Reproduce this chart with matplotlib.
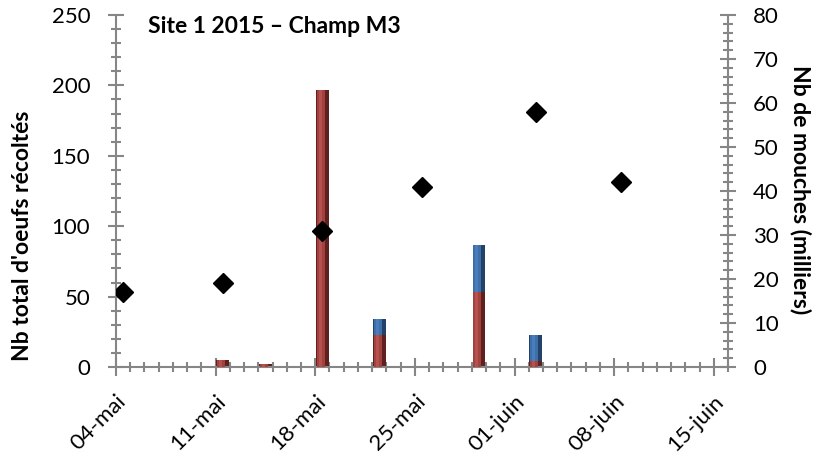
import matplotlib
matplotlib.use("Agg")
import matplotlib.pyplot as plt
import matplotlib.dates as mdates
from matplotlib.ticker import MultipleLocator
import pandas as pd

plt.rcParams['font.family'] = ['Lato', 'DejaVu Sans']

# données
dates_oeufs = ["2015-05-11", "2015-05-14", "2015-05-18", "2015-05-22", "2015-05-29", "2015-06-02"]
oeufs_rouge = [5, 2, 197, 23, 53, 4]
oeufs_bleu = [0, 0, 0, 11, 34, 19]

dates_mouches = ["2015-05-04", "2015-05-11", "2015-05-18", "2015-05-25", "2015-06-02", "2015-06-08"]
mouches = [17, 19, 31, 41, 58, 42]

tick_dates = ["2015-05-04", "2015-05-11", "2015-05-18", "2015-05-25", "2015-06-01", "2015-06-08", "2015-06-15"]
tick_labels = ["04-mai", "11-mai", "18-mai", "25-mai", "01-juin", "08-juin", "15-juin"]

gris = "#868686"
half = pd.Timedelta(hours=12)

x_oeufs = mdates.date2num(pd.to_datetime(dates_oeufs) + half)
x_mouches = mdates.date2num(pd.to_datetime(dates_mouches) + half)

fig, ax = plt.subplots(figsize=(8.15, 4.59), dpi=100)
fig.subplots_adjust(left=0.1423, right=0.8933, top=0.9673, bottom=0.2004)

w = 0.9
# barres rouges (ombrées)
ax.bar(x_oeufs, oeufs_rouge, width=w, color="#5e2120", zorder=2)
ax.bar(x_oeufs - 0.12, oeufs_rouge, width=w * 0.62, color="#a3413e", zorder=3)
ax.bar(x_oeufs - 0.15, oeufs_rouge, width=w * 0.25, color="#b5524f", zorder=3)
# barres bleues empilées
ax.bar(x_oeufs, oeufs_bleu, bottom=oeufs_rouge, width=w, color="#23426a", zorder=2)
ax.bar(x_oeufs - 0.12, oeufs_bleu, bottom=oeufs_rouge, width=w * 0.62, color="#3e6fa8", zorder=3)
ax.bar(x_oeufs - 0.15, oeufs_bleu, bottom=oeufs_rouge, width=w * 0.25, color="#4a7dbb", zorder=3)

ax.set_ylim(0, 250)
ax.set_xlim(mdates.date2num(pd.Timestamp("2015-05-04")), mdates.date2num(pd.Timestamp("2015-06-16")))
ax.yaxis.set_major_locator(MultipleLocator(50))
ax.yaxis.set_minor_locator(MultipleLocator(10))
ax.set_xticks(mdates.date2num(pd.to_datetime(tick_dates)))
ax.set_xticklabels(tick_labels, rotation=45, ha="right", va="top", rotation_mode="anchor")
ax.xaxis.set_minor_locator(MultipleLocator(1))

ax.set_ylabel("Nb total d'oeufs récoltés", fontsize=16.5, fontweight="bold", va="center")
ax.yaxis.set_label_coords(-0.153, 0.372)

ax2 = ax.twinx()
ax2.plot(x_mouches, mouches, "D", color="black", markersize=10, zorder=5)
ax2.set_ylim(0, 80)
ax2.yaxis.set_major_locator(MultipleLocator(10))
ax2.yaxis.set_minor_locator(MultipleLocator(2))
ax2.set_ylabel("Nb de mouches (milliers)", fontsize=16.5, fontweight="bold", rotation=270, va="center")
ax2.yaxis.set_label_coords(1.119, 0.503)

for a in (ax, ax2):
    for s in a.spines.values():
        s.set_color(gris)
        s.set_linewidth(1.5)
    a.spines["top"].set_visible(False)
    a.tick_params(which="major", direction="inout", length=11, width=1.5, color=gris, labelsize=16)
    a.tick_params(which="minor", direction="inout", length=7, width=1.5, color=gris)
ax.spines["right"].set_visible(False)
ax2.spines["left"].set_visible(False)
ax2.spines["bottom"].set_visible(False)
ax.tick_params(axis="y", which="major", pad=13)
ax2.tick_params(axis="y", which="major", pad=12.5)
ax.tick_params(axis="x", which="major", length=13, pad=11)

ax.text(0.052, 0.949, "Site 1 2015 – Champ M3", transform=ax.transAxes,
        fontsize=16.5, fontweight="bold", va="baseline", ha="left")

fig.savefig("out.png", dpi=100)
